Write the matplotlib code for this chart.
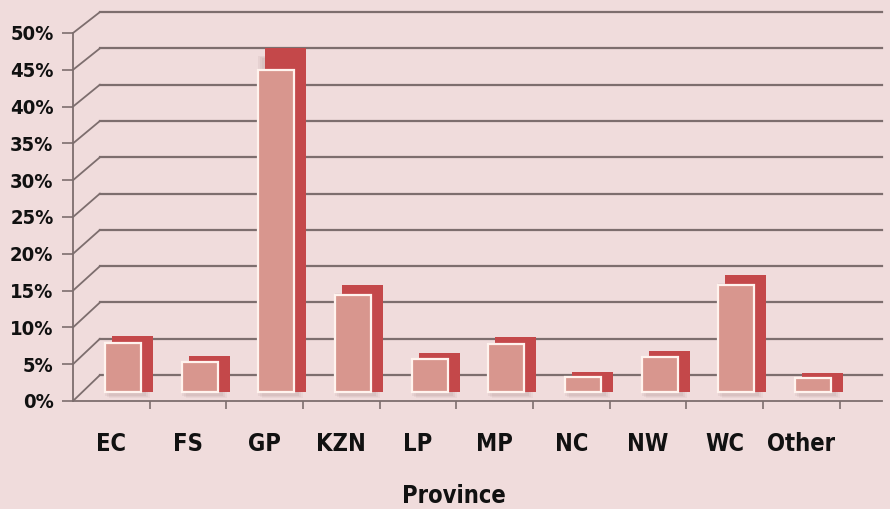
import matplotlib
matplotlib.use('Agg')
import matplotlib.pyplot as plt
import matplotlib.transforms as mtransforms
from matplotlib.patches import ConnectionPatch
import numpy as np

categories = ['EC', 'FS', 'GP', 'KZN', 'LP', 'MP', 'NC', 'NW', 'WC', 'Other']
values = [6.7, 4.1, 43.8, 13.2, 4.5, 6.5, 2.0, 4.8, 14.5, 1.9]
yticks = [0, 5, 10, 15, 20, 25, 30, 35, 40, 45, 50]
ytick_labels = ['0%', '5%', '10%', '15%', '20%', '25%', '30%', '35%', '40%', '45%', '50%']
xlabel = 'Province'

BG = '#f0dcdc'
FACE = '#d8968e'
DARK = '#c4484a'
GRID = '#7d6e6e'
DPI = 100
W, H = 890, 509

fig = plt.figure(figsize=(W / DPI, H / DPI), dpi=DPI, facecolor=BG)

def pos(l, b, w, h):
    return [l / W, b / H, w / W, h / H]

# back wall plane (perspective: slightly compressed)
ax_back = fig.add_axes(pos(100, H - 375, 782, 363), zorder=0)
ax_back.set_ylim(0, 50)
ax_back.set_xlim(0, 1)
ax_back.axis('off')
# plane of the dark top/side faces of the bars
ax_dark = fig.add_axes(pos(73, H - 401, 809, 368), zorder=1)
ax_dark.axis('off')
# front plane with the axes
ax = fig.add_axes(pos(73, H - 401, 809, 368), zorder=2)
ax.set_facecolor('none')

xlim = (-0.5, 10.05)
for a in (ax, ax_dark):
    a.set_xlim(*xlim)
ax.set_ylim(0, 50)
ax_dark.set_ylim(0, 50 / 1.056)

font = dict(family='DejaVu Sans', fontstretch='condensed', fontweight='bold', color='#111111')

for s in ['top', 'right']:
    ax.spines[s].set_visible(False)
for s in ['left', 'bottom']:
    ax.spines[s].set_color(GRID)
    ax.spines[s].set_linewidth(1.3)

def px(dx, dy):
    return mtransforms.ScaledTranslation(dx / DPI, dy / DPI, fig.dpi_scale_trans)

# back wall gridlines and slanted connectors
for v in yticks:
    ax_back.axhline(v, color=GRID, lw=1.6, clip_on=False)
    con = ConnectionPatch(xyA=(xlim[0], v), coordsA=ax.transData,
                          xyB=(0, v), coordsB=ax_back.get_yaxis_transform(),
                          color=GRID, lw=1.3, zorder=1)
    fig.add_artist(con)

x = np.arange(len(categories))
w = 0.47
wd = 0.535

# soft shadow
for dx, dy, a in [(18, 3, 0.05), (16, 4, 0.06), (14, 5, 0.07)]:
    ax_dark.bar(x, values, width=wd, color='#6b4b4b', alpha=a, linewidth=0,
                transform=ax_dark.transData + px(dx, dy), zorder=2, clip_on=False)

# dark top and side block
ax_dark.bar(x, values, width=wd, color=DARK, linewidth=0,
            transform=ax_dark.transData + px(21, 13), zorder=3, clip_on=False)
ax_dark.bar(x, values, width=wd, color=DARK, linewidth=0,
            transform=ax_dark.transData + px(21, 9), zorder=3, clip_on=False)
# front face
ax.bar(x, values, width=w, color=FACE, edgecolor='#fff3ee', linewidth=1.6,
       transform=ax.transData + px(11.5, 9), zorder=4, clip_on=False)

ax.set_yticks(yticks)
ax.set_yticklabels(ytick_labels, fontsize=14.5, **font)
ax.tick_params(axis='y', direction='out', length=8, width=1.2, color=GRID, pad=6)

ax.set_xticks(x)
ax.set_xticklabels(categories, fontsize=17, **font)
ax.set_xticks(np.arange(0.5, 10, 1), minor=True)
ax.tick_params(axis='x', which='major', length=0, pad=22)
ax.tick_params(axis='x', which='minor', direction='out', length=6, width=1.2, color=GRID)

ax.set_xlabel(xlabel, fontsize=17, **font)
ax.xaxis.set_label_coords((454 - 73) / 809, (401 - 484) / 368)

fig.savefig('out.png', dpi=DPI, facecolor=BG)
